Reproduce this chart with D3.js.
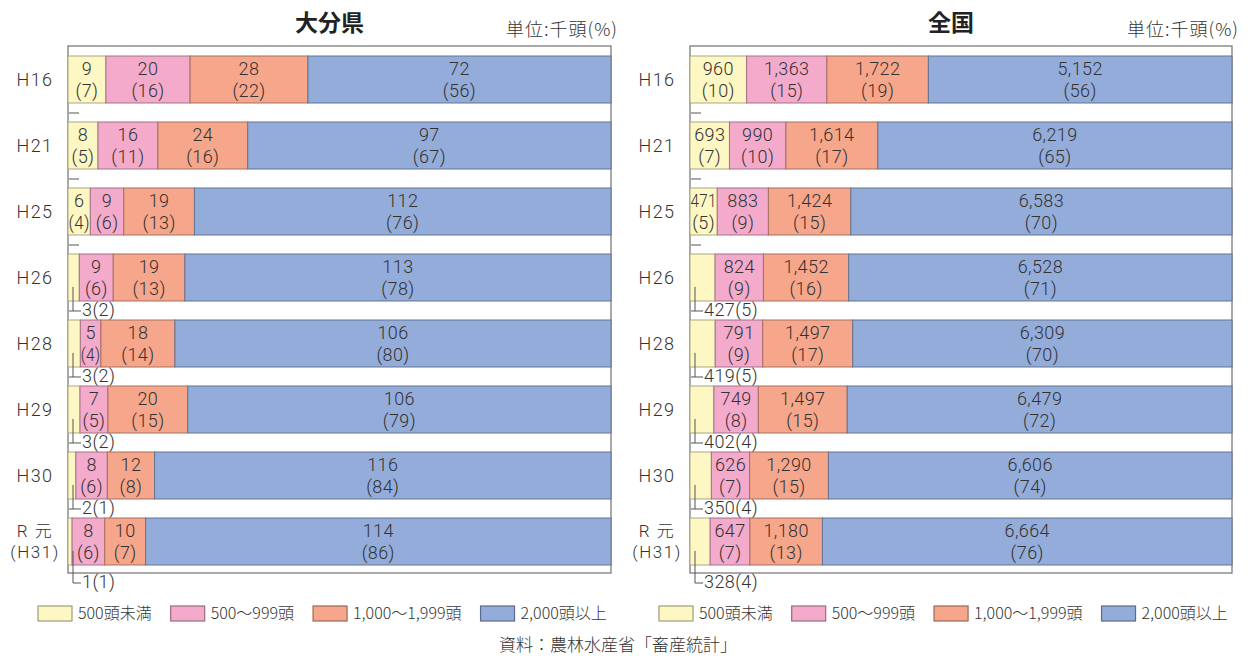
<!DOCTYPE html>
<html>
<head>
<meta charset="utf-8">
<script src="https://cdn.jsdelivr.net/npm/d3@7"></script>
<style>
  body { margin: 0; background: #fff; }
  svg { display: block; font-family: "Noto Sans CJK JP", "Noto Sans", sans-serif; }
  .num { font-family: Roboto, "Noto Sans CJK JP", sans-serif; }
</style>
</head>
<body>
<svg width="1253" height="657"></svg>
<script>
// years (rows), top to bottom
var categories = ["H16", "H21", "H25", "H26", "H28", "H29", "H30", "R元"];
var categoryLines = [["H16"], ["H21"], ["H25"], ["H26"], ["H28"], ["H29"], ["H30"], ["R 元", "(H31)"]];

var seriesNames = ["500頭未満", "500〜999頭", "1,000〜1,999頭", "2,000頭以上"];
var seriesColors = ["#fdf7c3", "#f3aacb", "#f6a68a", "#93acd9"];

// 大分県: 千頭 and (%)
var oitaHead = [[9, 20, 28, 72], [8, 16, 24, 97], [6, 9, 19, 112], [3, 9, 19, 113],
                [3, 5, 18, 106], [3, 7, 20, 106], [2, 8, 12, 116], [1, 8, 10, 114]];
var oitaPct  = [[7, 16, 22, 56], [5, 11, 16, 67], [4, 6, 13, 76], [2, 6, 13, 78],
                [2, 4, 14, 80], [2, 5, 15, 79], [1, 6, 8, 84], [1, 6, 7, 86]];

// 全国
var zenkokuHead = [[960, 1363, 1722, 5152], [693, 990, 1614, 6219], [471, 883, 1424, 6583],
                   [427, 824, 1452, 6528], [419, 791, 1497, 6309], [402, 749, 1497, 6479],
                   [350, 626, 1290, 6606], [328, 647, 1180, 6664]];
var zenkokuPct  = [[10, 15, 19, 56], [7, 10, 17, 65], [5, 9, 15, 70], [5, 9, 16, 71],
                   [5, 9, 17, 70], [4, 8, 15, 72], [4, 7, 15, 74], [4, 7, 13, 76]];

// rows where the smallest class is labelled under the bar
var calloutRows = ["H26", "H28", "H29", "H30", "R元"];

var svg = d3.select("svg");
var textColor = "#333";
var frameTop = 46, frameBottom = 573;

var y = d3.scaleBand()
    .domain(categories)
    .range([56, 565])
    .paddingInner(0.288)
    .paddingOuter(0);
var bw = y.bandwidth();

var panels = [
  {title: "大分県", head: oitaHead, pct: oitaPct, x0: 68, x1: 611, fmt: d3.format("d"), legendX: 38},
  {title: "全国", head: zenkokuHead, pct: zenkokuPct, x0: 690, x1: 1232, fmt: d3.format(","), legendX: 659}
];

function fit(sel, maxW) {
  sel.each(function() {
    var w = this.getComputedTextLength();
    if (w > maxW) {
      d3.select(this).attr("textLength", maxW).attr("lengthAdjust", "spacingAndGlyphs");
    }
  });
}

panels.forEach(function(p) {
  var g = svg.append("g");
  var x = d3.scaleLinear().domain([0, 1]).range([p.x0, p.x1]);

  g.append("text")
      .attr("x", (p.x0 + p.x1) / 2 - 10)
      .attr("y", 31)
      .attr("text-anchor", "middle")
      .attr("font-size", 23)
      .attr("font-weight", "bold")
      .attr("fill", "#222")
      .text(p.title);

  g.append("text")
      .attr("x", p.x1 + 7)
      .attr("y", 36)
      .attr("text-anchor", "end")
      .attr("font-size", 18)
      .attr("font-weight", 300)
      .attr("letter-spacing", 1)
      .attr("fill", textColor)
      .text("単位:千頭(%)");

  g.append("rect")
      .attr("x", p.x0)
      .attr("y", frameTop)
      .attr("width", p.x1 - p.x0)
      .attr("height", frameBottom - frameTop)
      .attr("fill", "#fff")
      .attr("stroke", "#707070")
      .attr("stroke-width", 1.2);

  // category labels
  categories.forEach(function(c, i) {
    var lines = categoryLines[i];
    var cy = y(c) + bw / 2;
    lines.forEach(function(t, k) {
      g.append("text")
          .attr("class", "num")
          .attr("x", p.x0 - 33)
          .attr("y", cy + (k - (lines.length - 1) / 2) * 21)
          .attr("dy", "0.36em")
          .attr("text-anchor", "middle")
          .attr("font-size", lines.length > 1 ? 17 : 18)
          .attr("font-weight", 300)
          .attr("letter-spacing", 1.5)
          .attr("fill", textColor)
          .text(t);
    });
  });

  categories.forEach(function(c, i) {
    var vals = p.head[i];
    var total = d3.sum(vals);
    var cum = 0;
    var top = y(c);
    var bottom = top + bw;
    var callout = calloutRows.indexOf(c) >= 0;

    vals.forEach(function(v, s) {
      var a = x(cum / total), b = x((cum + v) / total);
      cum += v;
      g.append("rect")
          .attr("x", a)
          .attr("y", top)
          .attr("width", b - a)
          .attr("height", bw)
          .attr("fill", seriesColors[s])
          .attr("stroke", d3.color(seriesColors[s]).darker(1.1))
          .attr("stroke-width", 1);

      if (s === 0 && callout) return;
      var cx = (a + b) / 2;
      var t1 = g.append("text")
          .attr("class", "num")
          .attr("x", cx).attr("y", top + bw / 2 - 10.6)
          .attr("dy", "0.36em")
          .attr("text-anchor", "middle")
          .attr("font-size", 18)
          .attr("font-weight", 300)
          .attr("letter-spacing", 0.4)
          .attr("fill", textColor)
          .text(p.fmt(v));
      var t2 = g.append("text")
          .attr("class", "num")
          .attr("x", cx).attr("y", top + bw / 2 + 10.6)
          .attr("dy", "0.36em")
          .attr("text-anchor", "middle")
          .attr("font-size", 18)
          .attr("font-weight", 300)
          .attr("letter-spacing", 0.4)
          .attr("fill", textColor)
          .text("(" + p.pct[i][s] + ")");
      fit(t1, b - a - 1);
      fit(t2, b - a - 1);
    });

    var isLast = i === categories.length - 1;
    if (callout) {
      var ly = isLast ? frameBottom + 9 : bottom + 9;
      g.append("line")
          .attr("x1", p.x0 + 5).attr("x2", p.x0 + 5)
          .attr("y1", top + bw * 0.7).attr("y2", ly + 1)
          .attr("stroke", "#555").attr("stroke-width", 1);
      g.append("line")
          .attr("x1", p.x0 + (isLast ? 5 : 1)).attr("x2", p.x0 + 13)
          .attr("y1", ly + 1).attr("y2", ly + 1)
          .attr("stroke", "#555").attr("stroke-width", 1);
      g.append("text")
          .attr("class", "num")
          .attr("x", p.x0 + 14)
          .attr("y", ly)
          .attr("dy", "0.36em")
          .attr("font-size", 18)
          .attr("font-weight", 300)
          .attr("letter-spacing", 0.4)
          .attr("fill", textColor)
          .text(p.fmt(vals[0]) + "(" + p.pct[i][0] + ")");
    } else if (!isLast) {
      g.append("line")
          .attr("x1", p.x0 + 1).attr("x2", p.x0 + 11)
          .attr("y1", bottom + 10).attr("y2", bottom + 10)
          .attr("stroke", "#555").attr("stroke-width", 1);
    }
  });

  // legend
  var lx = p.legendX;
  var ly0 = 613;
  seriesNames.forEach(function(name, s) {
    g.append("rect")
        .attr("x", lx).attr("y", ly0 - 7)
        .attr("width", 34).attr("height", 15)
        .attr("fill", seriesColors[s])
        .attr("stroke", d3.color(seriesColors[s]).darker(1.3))
        .attr("stroke-width", 1.2);
    var t = g.append("text")
        .attr("x", lx + 40).attr("y", ly0)
        .attr("dy", "0.36em")
        .attr("font-size", 16)
        .attr("font-weight", 300)
        .attr("fill", textColor)
        .text(name);
    lx += 40 + t.node().getComputedTextLength() + 19;
  });
});

svg.append("text")
    .attr("x", 618)
    .attr("y", 645)
    .attr("dy", "0.36em")
    .attr("text-anchor", "middle")
    .attr("font-size", 17)
    .attr("font-weight", 300)
    .attr("fill", textColor)
    .text("資料：農林水産省「畜産統計」");
</script>
</body>
</html>
